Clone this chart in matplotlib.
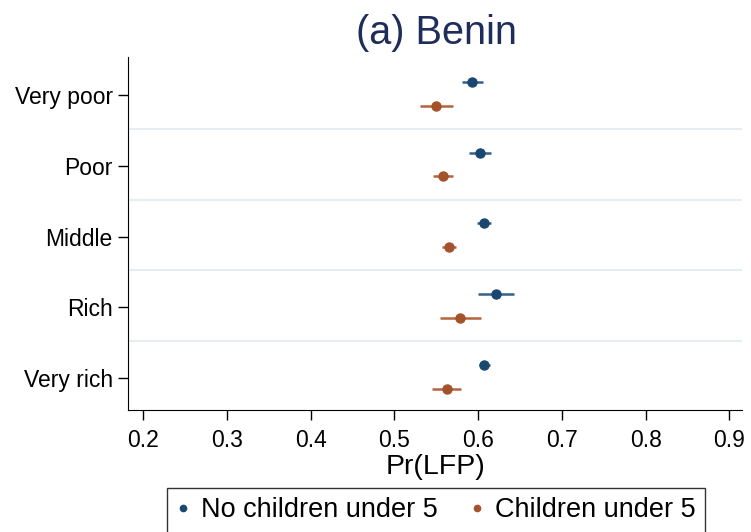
import numpy as np
import matplotlib.pyplot as plt

plt.rcParams['font.family'] = ['Liberation Sans', 'DejaVu Sans']

# wealth groups, top to bottom
groups = ["Very poor", "Poor", "Middle", "Rich", "Very rich"]

# predicted Pr(LFP) with 95% CI
no_kids = [0.593, 0.602, 0.607, 0.621, 0.607]
no_kids_lo = [0.581, 0.589, 0.599, 0.600, 0.601]
no_kids_hi = [0.606, 0.615, 0.615, 0.643, 0.614]

kids = [0.550, 0.558, 0.565, 0.578, 0.563]
kids_lo = [0.530, 0.546, 0.557, 0.554, 0.545]
kids_hi = [0.570, 0.570, 0.573, 0.603, 0.580]

xticks = [0.2, 0.3, 0.4, 0.5, 0.6, 0.7, 0.8, 0.9]

blue = "#1a476f"
blue_ci = "#33608c"
orange = "#a3522b"
orange_ci = "#b5643c"

fig = plt.figure(figsize=(7.51, 5.32), dpi=100)
ax = fig.add_axes([128/751, 1-410/532, 614/751, 353/532])

y = np.arange(len(groups))

# light separators between groups
for i in range(len(groups) - 1):
    ax.axhline(i + 0.48, color="#e6edf0", lw=1.5, zorder=0)

ax.hlines(y - 0.185, no_kids_lo, no_kids_hi, color=blue_ci, lw=1.8)
ax.plot(no_kids, y - 0.185, 'o', color=blue, ms=6.5, label="No children under 5")
ax.hlines(y + 0.15, kids_lo, kids_hi, color=orange_ci, lw=1.8)
ax.plot(kids, y + 0.15, 'o', color=orange, ms=6.5, label="Children under 5")

ax.set_xlim(0.182, 0.915)
ax.set_ylim(4.45, -0.535)
ax.set_yticks(y)
ax.set_yticklabels(groups, fontsize=16.5)
ax.set_xticks(xticks)
ax.set_xticklabels([str(t) for t in xticks], fontsize=16.5)
ax.tick_params(axis='both', length=7, width=1, color='black')
ax.tick_params(axis='y', pad=4)
ax.tick_params(axis='x', pad=7)
ax.spines['top'].set_visible(False)
ax.spines['right'].set_visible(False)
ax.set_xlabel("Pr(LFP)", fontsize=20.5, labelpad=1)

fig.text(437/751, 1-33/532, "(a) Benin", fontsize=28.5, color="#1e2d5a",
         ha='center', va='center')

labels = ["No children under 5", "Children under 5"]
handles = [plt.Line2D([], [], ls='', marker='o', ms=4.5, color=blue),
           plt.Line2D([], [], ls='', marker='o', ms=4.5, color=orange)]
leg = fig.legend(handles, labels, loc='upper center',
                 bbox_to_anchor=(436/751, 1-488/532), borderaxespad=0,
                 ncol=2, fontsize=19.5, frameon=True, fancybox=False,
                 edgecolor='black', handlelength=0.5, handletextpad=0.4,
                 columnspacing=1.2, borderpad=0.35)
leg.get_frame().set_linewidth(1)

fig.savefig("out.png", dpi=100)
